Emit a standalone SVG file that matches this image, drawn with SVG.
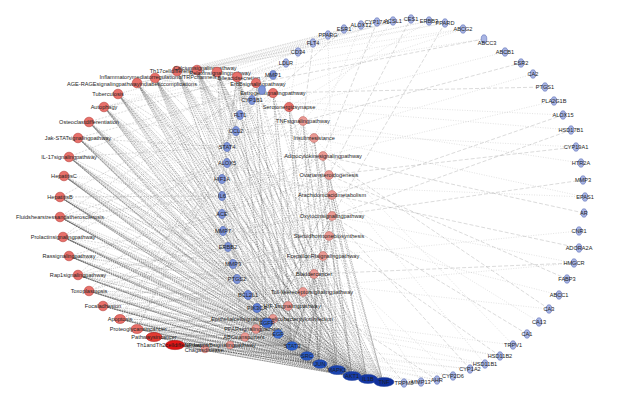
<svg xmlns="http://www.w3.org/2000/svg" width="624" height="410" viewBox="0 0 624 410">
<style>
text{font-family:"Liberation Sans",Arial,sans-serif;font-size:5.6px;fill:#1e1e1e;text-anchor:middle}
.p{fill:#e8706a;stroke:#b8453f;stroke-width:.6}
.q{fill:#eb9a94;stroke:#c26d67;stroke-width:.6}
.o{fill:#a9b5e4;stroke:#5d6fb6;stroke-width:.6}
.g{fill:#7e94d9;stroke:#4961b0;stroke-width:.6}
.h{stroke:#1f3f9a;stroke-width:.5}
path{fill:none}
.e1{stroke:#333;stroke-width:.42;stroke-dasharray:1.6 .9;opacity:.8}
.e2{stroke:#5a5a5a;stroke-width:.4;stroke-dasharray:1 1;opacity:.75}
.e3{stroke:#7a7a7a;stroke-width:.4;stroke-dasharray:2 1.4;opacity:.7}
.e4{stroke:#9a9a9a;stroke-width:.45;stroke-dasharray:4 2;opacity:.8}
.e5{stroke:#a8a8a8;stroke-width:.4;stroke-dasharray:1 1.5;opacity:.8}
</style>
<rect width="624" height="410" fill="#fff"/>
<g id="connectors">
<path class="e1" d="M267 323 L177 71 292 346 197 70 307 356 217 72 319 364 155 78 337 370 237 77 352 376 137 83 367 379 118 94 383 382 104 107 267 323 89 122 292 346 78 138 307 356 69 157 319 364 64 176 337 370 60 197 352 376 60 217 367 379 63 237 383 382 69 256 267 323 78 275 292 346 89 291 307 356 103 306 319 364 119 319 337 370 137 329 352 376 154 337 367 379 175 345 383 382"/>
<path class="e1" d="M337 370 L177 71 352 376 197 70 367 379 217 72 383 382 155 78 267 323 237 77 292 346 137 83 307 356 118 94 319 364 104 107 337 370 89 122 352 376 78 138 367 379 69 157 383 382 64 176 267 323 60 197 292 346 60 217 307 356 63 237 319 364 69 256 337 370 78 275 352 376 89 291 367 379 103 306 383 382 119 319 267 323 137 329 292 346 154 337 307 356 175 345 319 364"/>
<path class="e2" d="M307 356 L177 71 319 364 197 70 337 370 217 72 352 376 155 78 367 379 237 77 383 382 137 83 267 323 118 94 292 346 104 107 307 356 89 122 319 364 78 138 337 370 69 157 352 376 64 176 367 379 60 197 383 382 60 217 267 323 63 237 292 346 69 256 307 356 78 275 319 364 89 291 337 370 103 306 352 376 119 319 367 379 137 329 383 382 154 337 267 323 175 345 292 346"/>
<path class="e2" d="M367 379 L177 71 383 382 197 70 267 323 217 72 292 346 155 78 307 356 237 77 319 364 137 83 337 370 118 94 352 376 104 107 367 379 89 122 383 382 78 138 267 323 69 157 292 346 64 176 307 356 60 197 319 364 60 217 337 370 63 237 352 376 69 256 367 379 78 275 383 382 89 291 267 323 103 306 292 346 119 319 307 356 137 329 319 364 154 337 337 370 175 345 352 376"/>
<path class="e3" d="M177 71 L222 196 197 70 228 247 217 72 237 279 155 78 222 214 237 77 233 264 137 83 222 179 118 94 248 295 104 107 223 231 89 122 257 308 78 138 227 147 69 157 237 279 64 176 228 247 60 197 222 196 60 217 227 163 63 237 233 264 69 256 222 214 78 275 236 131 89 291 223 231 103 306 222 179 119 319 240 115 137 329 278 334 154 337 248 295 175 345 257 308"/>
<path class="e2" d="M177 71 L240 115 197 70 236 131 217 72 252 100 155 78 227 147 237 77 222 179 137 83 227 163 118 94 222 196 104 107 222 214 89 122 228 247 78 138 223 231 69 157 233 264 64 176 237 279 60 197 248 295 60 217 257 308 63 237 278 334 69 256 237 279 78 275 228 247 89 291 248 295 103 306 233 264 119 319 237 279 137 329 257 308 154 337 278 334 175 345 248 295"/>
<path class="e5" d="M177 71 L248 295 197 70 257 308 217 72 233 264 155 78 237 279 237 77 257 308 137 83 228 247 118 94 233 264 104 107 237 279 89 122 248 295 78 138 257 308 69 157 278 334 64 176 222 196 60 197 223 231 60 217 228 247 63 237 237 279 69 256 248 295 78 275 257 308 89 291 278 334 103 306 237 279 119 319 257 308 137 329 248 295 154 337 233 264 175 345 228 247"/>
<path class="e3" d="M273 75 L69 157 M273 75 L104 107 M273 75 L60 217 M262 88 L78 138 M262 88 L60 197 M262 88 L137 329 M286 63 L89 122 M286 63 L63 237"/>
<path class="e1" d="M267 323 L256 83 292 346 273 93 307 356 289 107 319 364 303 121 337 370 314 138 352 376 323 156 367 379 329 175 383 382 332 195 267 323 332 216 292 346 329 236 307 356 323 256 319 364 314 274 337 370 303 292 352 376 288 306 367 379 273 319 383 382 256 329 267 323 245 337 292 346 230 345 307 356 205 349 319 364"/>
<path class="e3" d="M337 370 L256 83 352 376 273 93 367 379 289 107 383 382 303 121 267 323 314 138 292 346 323 156 307 356 329 175 319 364 332 195 337 370 332 216 352 376 329 236 367 379 323 256 383 382 314 274 267 323 303 292 292 346 288 306 307 356 273 319 319 364 256 329"/>
<path class="e3" d="M256 83 L240 115 273 93 227 147 289 107 222 179 303 121 236 131 314 138 222 196 323 156 222 214 329 175 228 247 332 195 227 163 332 216 223 231 329 236 233 264 323 256 237 279 314 274 248 295 303 292 222 196 288 306 228 247 273 319 257 308 256 329 222 214 245 337 222 179"/>
<path class="e5" d="M256 83 L222 196 273 93 223 231 289 107 233 264 303 121 237 279 314 138 228 247 323 156 248 295 329 175 257 308 332 195 233 264 332 216 237 279 329 236 252 100 323 256 227 147 314 274 236 131 303 292 227 163 288 306 240 115"/>
<path class="e4" d="M404 383 L314 274 M437 380 L303 292 M470 369 L332 216 M500 356 L329 236 M527 334 L332 216 M549 309 L323 156 M567 279 L329 175 M579 248 L332 195 M584 213 L323 156 M583 180 L332 216 M576 147 L329 175 M563 115 L332 195 M545 87 L273 93 M521 63 L303 121 M484 39 L256 83 M445 23 L332 216 M411 18 L329 175 M377 22 L323 156 M344 29 L273 93 M313 43 L303 121 M286 63 L256 83 M574 263 L314 274 M571 130 L332 216"/>
<path class="e5" d="M421 382 L329 236 M453 376 L323 256 M485 364 L329 175 M513 345 L314 138 M539 322 L332 195 M559 295 L329 236 M574 263 L332 216 M579 231 L323 256 M585 197 L314 138 M581 163 L303 121 M571 130 L289 107 M554 101 L323 156 M533 74 L314 138 M505 52 L289 107 M463 29 L273 93 M429 21 L289 107 M393 21 L303 121 M361 25 L314 138 M328 35 L332 195 M298 52 L289 107"/>
<path class="e5" d="M404 383 L175 345 421 382 119 319 437 380 103 306 453 376 154 337 470 369 137 329 485 364 78 275 500 356 89 291 513 345 M484 39 L237 77 463 29 177 71 445 23 137 83 429 21 155 78 411 18 197 70 393 21 217 72 377 22 177 71 361 25 237 77 344 29 155 78 328 35 118 94 313 43 137 83 298 52 104 107 286 63 M585 197 L64 176 M576 147 L89 122 M563 115 L118 94 M574 263 L103 306 M549 309 L69 256"/>
</g>
<g id="nodes">
<g id="p-th17"><circle class="p" cx="177" cy="71" r="4.8"/><text x="177" y="73">Th17celldifferentiation</text></g>
<g id="p-calcium"><circle class="p" cx="197" cy="70" r="4.8"/><text x="205" y="70">Calciumsignalingpathway</text></g>
<g id="p-relaxin"><circle class="p" cx="217" cy="72" r="4.8"/><text x="220" y="75">Relaxinsignalingpathway</text></g>
<g id="p-inflam"><circle class="p" cx="155" cy="78" r="4.8"/><text x="158" y="79">InflammatorymediatorregulationofTRPchannels</text></g>
<g id="p-bile"><circle class="p" cx="237" cy="77" r="4.8"/><text x="239" y="80">Bileacidsecretion</text></g>
<g id="p-age"><circle class="p" cx="137" cy="83" r="4.8"/><text x="132" y="86">AGE-RAGEsignalingpathwayindiabeticcomplications</text></g>
<g id="p-tb"><circle class="p" cx="118" cy="94" r="4.8"/><text x="108" y="96">Tuberculosis</text></g>
<g id="p-autophagy"><circle class="p" cx="104" cy="107" r="4.8"/><text x="104" y="109">Autophagy</text></g>
<g id="p-osteo"><circle class="p" cx="89" cy="122" r="4.8"/><text x="89" y="124">Osteoclastdifferentiation</text></g>
<g id="p-jak"><circle class="p" cx="78" cy="138" r="4.8"/><text x="78" y="140">Jak-STATsignalingpathway</text></g>
<g id="p-il17"><circle class="p" cx="69" cy="157" r="4.8"/><text x="69" y="159">IL-17signalingpathway</text></g>
<g id="p-hepc"><circle class="p" cx="64" cy="176" r="4.8"/><text x="64" y="178">HepatitisC</text></g>
<g id="p-hepb"><circle class="p" cx="60" cy="197" r="4.8"/><text x="60" y="199">HepatitisB</text></g>
<g id="p-fluid"><circle class="p" cx="60" cy="217" r="4.8"/><text x="60" y="219">Fluidshearstressandatherosclerosis</text></g>
<g id="p-prolactin"><circle class="p" cx="63" cy="237" r="4.8"/><text x="63" y="239">Prolactinsignalingpathway</text></g>
<g id="p-ras"><circle class="p" cx="69" cy="256" r="4.8"/><text x="69" y="258">Rassignalingpathway</text></g>
<g id="p-rap1"><circle class="p" cx="78" cy="275" r="4.8"/><text x="78" y="277">Rap1signalingpathway</text></g>
<g id="p-toxo"><circle class="p" cx="89" cy="291" r="4.8"/><text x="89" y="293">Toxoplasmosis</text></g>
<g id="p-focal"><circle class="p" cx="103" cy="306" r="4.8"/><text x="103" y="308">Focaladhesion</text></g>
<g id="p-apoptosis"><ellipse class="p" cx="120" cy="319" rx="5.5" ry="4.5"/><text x="120" y="321">Apoptosis</text></g>
<g id="p-proteo"><ellipse class="p" cx="137" cy="329" rx="6" ry="4.5"/><text x="138" y="331">Proteoglycansincancer</text></g>
<g id="p-pwc"><ellipse cx="154" cy="337" rx="8" ry="4.5" fill="#e23b33" stroke="#b02020" stroke-width=".6"/><text x="154" y="339">Pathwaysincancer</text></g>
<g id="p-th1"><ellipse cx="175" cy="345" rx="9.5" ry="4.6" fill="#e01414" stroke="#a80c0c" stroke-width=".6"/><text x="172" y="347">Th1andTh2celldifferentiation</text></g>
<g id="p-chagas"><circle class="q" cx="205" cy="349" r="3.8"/><text x="204" y="352">Chagasdisease</text></g>
<g id="p-nfkb"><circle class="q" cx="230" cy="345" r="3.8"/><text x="220" y="347">NF-kappaBsignalingpathway</text></g>
<g id="p-abc"><circle class="q" cx="245" cy="337" r="4.2"/><text x="244" y="339">ABCtransporters</text></g>
<g id="p-ppar"><circle class="q" cx="256" cy="329" r="4.4"/><text x="253" y="331">PPARsignalingpathway</text></g>
<g id="p-epi"><circle class="q" cx="273" cy="319" r="4.4"/><text x="272" y="321">Epithelialcellsignalinginhelicobacterpyloriinfection</text></g>
<g id="p-hif"><circle class="q" cx="288" cy="306" r="4.4"/><text x="292" y="308">HIF-1signalingpathway</text></g>
<g id="p-toll"><circle class="q" cx="303" cy="292" r="4.4"/><text x="312" y="294">Toll-likereceptorsignalingpathway</text></g>
<g id="p-bladder"><circle class="q" cx="314" cy="274" r="4.4"/><text x="314" y="276">Bladdercancer</text></g>
<g id="p-fc"><circle class="q" cx="323" cy="256" r="4.4"/><text x="323" y="258">FcepsilonRIsignalingpathway</text></g>
<g id="p-steroid"><circle class="q" cx="329" cy="236" r="4.4"/><text x="329" y="238">Steroidhormonebiosynthesis</text></g>
<g id="p-oxy"><circle class="q" cx="332" cy="216" r="4.4"/><text x="332" y="218">Oxytocinsignalingpathway</text></g>
<g id="p-arach"><circle class="q" cx="332" cy="195" r="4.4"/><text x="332" y="197">Arachidonicacidmetabolism</text></g>
<g id="p-ovar"><circle class="q" cx="329" cy="175" r="4.4"/><text x="329" y="177">Ovariansteroidogenesis</text></g>
<g id="p-adipo"><circle class="q" cx="323" cy="156" r="4.4"/><text x="323" y="158">Adipocytokinesignalingpathway</text></g>
<g id="p-insulin"><circle class="q" cx="314" cy="138" r="4.4"/><text x="314" y="140">Insulinresistance</text></g>
<g id="p-tnf"><circle class="q" cx="303" cy="121" r="4.4"/><text x="303" y="123">TNFsignalingpathway</text></g>
<g id="p-sero"><circle class="p" cx="289" cy="107" r="4.6"/><text x="289" y="109">Serotonergicsynapse</text></g>
<g id="p-estrogen"><circle class="p" cx="273" cy="93" r="4.6"/><text x="273" y="95">Estrogensignalingpathway</text></g>
<g id="p-erbb"><circle class="p" cx="256" cy="83" r="4.6"/><text x="258" y="86">ErbBsignalingpathway</text></g>
<g id="g-unk"><ellipse class="g" cx="262" cy="90" rx="3.4" ry="4.4"/></g>
<g id="g-mmp1"><ellipse class="g" cx="273" cy="75" rx="3.4" ry="4.4"/><text x="273" y="77">MMP1</text></g>
<g id="g-cyp1b1"><ellipse class="g" cx="252" cy="100" rx="3.6" ry="4.6"/><text x="252" y="102">CYP1B1</text></g>
<g id="g-flt1"><ellipse class="g" cx="240" cy="115" rx="3.6" ry="4.6"/><text x="240" y="117">FLT1</text></g>
<g id="g-ccl2"><ellipse class="g" cx="236" cy="131" rx="3.6" ry="4.6"/><text x="236" y="133">CCL2</text></g>
<g id="g-stat4"><ellipse class="g" cx="227" cy="147" rx="3.6" ry="4.6"/><text x="227" y="149">STAT4</text></g>
<g id="g-alox5"><ellipse class="g" cx="227" cy="163" rx="3.6" ry="4.6"/><text x="227" y="165">ALOX5</text></g>
<g id="g-hif1a"><ellipse class="g" cx="222" cy="179" rx="3.6" ry="4.6"/><text x="222" y="181">HIF1A</text></g>
<g id="g-il6"><ellipse class="g" cx="222" cy="196" rx="3.6" ry="4.6"/><text x="222" y="198">IL6</text></g>
<g id="g-ace"><ellipse class="g" cx="222" cy="214" rx="3.6" ry="4.6"/><text x="222" y="216">ACE</text></g>
<g id="g-mmp7"><ellipse class="g" cx="223" cy="231" rx="3.6" ry="4.6"/><text x="223" y="233">MMP7</text></g>
<g id="g-erbb2"><ellipse class="g" cx="228" cy="247" rx="3.6" ry="4.6"/><text x="228" y="249">ERBB2</text></g>
<g id="g-mmp9"><ellipse class="g" cx="233" cy="264" rx="3.8" ry="4.6"/><text x="233" y="266">MMP9</text></g>
<g id="g-ptgs2"><ellipse class="g" cx="237" cy="279" rx="3.8" ry="4.6"/><text x="237" y="281">PTGS2</text></g>
<g id="g-bcl2l1"><ellipse cx="248" cy="295" rx="4" ry="4.6" fill="#6f89d8" stroke="#4961b0" stroke-width=".6"/><text x="248" y="297">BCL2L1</text></g>
<g id="g-pik3ca"><ellipse cx="257" cy="308" rx="4.2" ry="4.6" fill="#5f7fd6" stroke="#3d59ac" stroke-width=".6"/><text x="257" y="310">PIK3CA</text></g>
<g id="g-egfr"><ellipse class="h" cx="267" cy="323" rx="5.5" ry="4.8" fill="#3d6ad2"/><text x="267" y="325">EGFR</text></g>
<g id="g-egf"><ellipse class="h" cx="278" cy="334" rx="5" ry="4.3" fill="#4274d6"/><text x="278" y="336">EGF</text></g>
<g id="g-stat3"><ellipse class="h" cx="292" cy="346" rx="6" ry="4.3" fill="#2e63cc"/><text x="292" y="348">STAT3</text></g>
<g id="g-src"><ellipse class="h" cx="307" cy="356" rx="6.5" ry="4.3" fill="#2858c2"/><text x="307" y="358">SRC</text></g>
<g id="g-jun"><ellipse class="h" cx="320" cy="364" rx="7" ry="4.3" fill="#2250bb"/><text x="320" y="366">JUN</text></g>
<g id="g-mapk1"><ellipse class="h" cx="337" cy="370" rx="8.5" ry="4.5" fill="#1b44b0"/><text x="337" y="372">MAPK1</text></g>
<g id="g-akt1"><ellipse class="h" cx="352" cy="376" rx="9" ry="4.5" fill="#173ca8"/><text x="352" y="378">AKT1</text></g>
<g id="g-il1b"><ellipse class="h" cx="368" cy="379" rx="9.5" ry="4.5" fill="#1336a3"/><text x="368" y="381">IL1B</text></g>
<g id="g-tnf"><ellipse class="h" cx="384" cy="382" rx="10" ry="4.5" fill="#10309c"/><text x="384" y="384">TNF</text></g>
<g id="o-trpm8"><ellipse class="o" cx="404" cy="383" rx="2.8" ry="4.2"/><text x="404" y="385">TRPM8</text></g>
<g id="o-mmp13"><ellipse class="o" cx="421" cy="382" rx="2.8" ry="4.2"/><text x="421" y="384">MMP13</text></g>
<g id="o-ahr"><ellipse class="o" cx="437" cy="380" rx="2.8" ry="4.2"/><text x="437" y="382">AHR</text></g>
<g id="o-cyp2d6"><ellipse class="o" cx="453" cy="376" rx="2.8" ry="4.2"/><text x="453" y="378">CYP2D6</text></g>
<g id="o-cyp1a2"><ellipse class="o" cx="470" cy="369" rx="2.8" ry="4.2"/><text x="470" y="371">CYP1A2</text></g>
<g id="o-hsd11b1"><ellipse class="o" cx="485" cy="364" rx="2.8" ry="4.2"/><text x="485" y="366">HSD11B1</text></g>
<g id="o-hsd11b2"><ellipse class="o" cx="500" cy="356" rx="2.8" ry="4.2"/><text x="500" y="358">HSD11B2</text></g>
<g id="o-trpv1"><ellipse class="o" cx="513" cy="345" rx="2.8" ry="4.2"/><text x="513" y="347">TRPV1</text></g>
<g id="o-ca1"><ellipse class="o" cx="527" cy="334" rx="2.8" ry="4.2"/><text x="527" y="336">CA1</text></g>
<g id="o-ca13"><ellipse class="o" cx="539" cy="322" rx="2.8" ry="4.2"/><text x="539" y="324">CA13</text></g>
<g id="o-ca3"><ellipse class="o" cx="549" cy="309" rx="2.8" ry="4.2"/><text x="549" y="311">CA3</text></g>
<g id="o-abcc1"><ellipse class="o" cx="559" cy="295" rx="2.8" ry="4.2"/><text x="559" y="297">ABCC1</text></g>
<g id="o-fabp3"><ellipse class="o" cx="567" cy="279" rx="2.8" ry="4.2"/><text x="567" y="281">FABP3</text></g>
<g id="o-hmgcr"><ellipse class="o" cx="574" cy="263" rx="2.8" ry="4.2"/><text x="574" y="265">HMGCR</text></g>
<g id="o-adora2a"><ellipse class="o" cx="579" cy="248" rx="2.8" ry="4.2"/><text x="579" y="250">ADORA2A</text></g>
<g id="o-cnr1"><ellipse class="o" cx="579" cy="231" rx="2.8" ry="4.2"/><text x="579" y="233">CNR1</text></g>
<g id="o-ar"><ellipse class="o" cx="584" cy="213" rx="2.8" ry="4.2"/><text x="584" y="215">AR</text></g>
<g id="o-epas1"><ellipse class="o" cx="585" cy="197" rx="2.8" ry="4.2"/><text x="585" y="199">EPAS1</text></g>
<g id="o-mmp3"><ellipse class="o" cx="583" cy="180" rx="2.8" ry="4.2"/><text x="583" y="182">MMP3</text></g>
<g id="o-htr2a"><ellipse class="o" cx="581" cy="163" rx="2.8" ry="4.2"/><text x="581" y="165">HTR2A</text></g>
<g id="o-cyp19a1"><ellipse class="o" cx="576" cy="147" rx="2.8" ry="4.2"/><text x="576" y="149">CYP19A1</text></g>
<g id="o-hsd17b1"><ellipse class="o" cx="571" cy="130" rx="2.8" ry="4.2"/><text x="571" y="132">HSD17B1</text></g>
<g id="o-alox15"><ellipse class="o" cx="563" cy="115" rx="2.8" ry="4.2"/><text x="563" y="117">ALOX15</text></g>
<g id="o-pla2g1b"><ellipse class="o" cx="554" cy="101" rx="2.8" ry="4.2"/><text x="554" y="103">PLA2G1B</text></g>
<g id="o-ptgs1"><ellipse class="o" cx="545" cy="87" rx="2.8" ry="4.2"/><text x="545" y="89">PTGS1</text></g>
<g id="o-ca2"><ellipse class="o" cx="533" cy="74" rx="2.8" ry="4.2"/><text x="533" y="76">CA2</text></g>
<g id="o-esr2"><ellipse class="o" cx="521" cy="63" rx="2.8" ry="4.2"/><text x="521" y="65">ESR2</text></g>
<g id="o-abcb1"><ellipse class="o" cx="505" cy="52" rx="2.8" ry="4.2"/><text x="505" y="54">ABCB1</text></g>
<g id="o-abcc3"><ellipse class="o" cx="484" cy="39" rx="2.8" ry="4.2"/><text x="487" y="45">ABCC3</text></g>
<g id="o-abcg2"><ellipse class="o" cx="463" cy="29" rx="2.8" ry="4.2"/><text x="463" y="31">ABCG2</text></g>
<g id="o-ppard"><ellipse class="o" cx="445" cy="23" rx="2.8" ry="4.2"/><text x="445" y="25">PPARD</text></g>
<g id="o-erbb3"><ellipse class="o" cx="429" cy="21" rx="2.8" ry="4.2"/><text x="429" y="23">ERBB3</text></g>
<g id="o-ces1"><ellipse class="o" cx="411" cy="19" rx="2.8" ry="4.2"/><text x="411" y="21">CES1</text></g>
<g id="o-acsl1"><ellipse class="o" cx="393" cy="21" rx="2.8" ry="4.2"/><text x="393" y="23">ACSL1</text></g>
<g id="o-cyp17a1"><ellipse class="o" cx="377" cy="22" rx="2.8" ry="4.2"/><text x="377" y="24">CYP17A1</text></g>
<g id="o-alox12"><ellipse class="o" cx="361" cy="25" rx="2.8" ry="4.2"/><text x="361" y="27">ALOX12</text></g>
<g id="o-esr1"><ellipse class="o" cx="344" cy="29" rx="2.8" ry="4.2"/><text x="344" y="31">ESR1</text></g>
<g id="o-pparg"><ellipse class="o" cx="328" cy="35" rx="2.8" ry="4.2"/><text x="328" y="37">PPARG</text></g>
<g id="o-flt4"><ellipse class="o" cx="313" cy="43" rx="2.8" ry="4.2"/><text x="313" y="45">FLT4</text></g>
<g id="o-cd34"><ellipse class="o" cx="298" cy="52" rx="2.8" ry="4.2"/><text x="298" y="54">CD34</text></g>
<g id="o-ldlr"><ellipse class="o" cx="286" cy="63" rx="2.8" ry="4.2"/><text x="286" y="65">LDLR</text></g>
</g>
</svg>
